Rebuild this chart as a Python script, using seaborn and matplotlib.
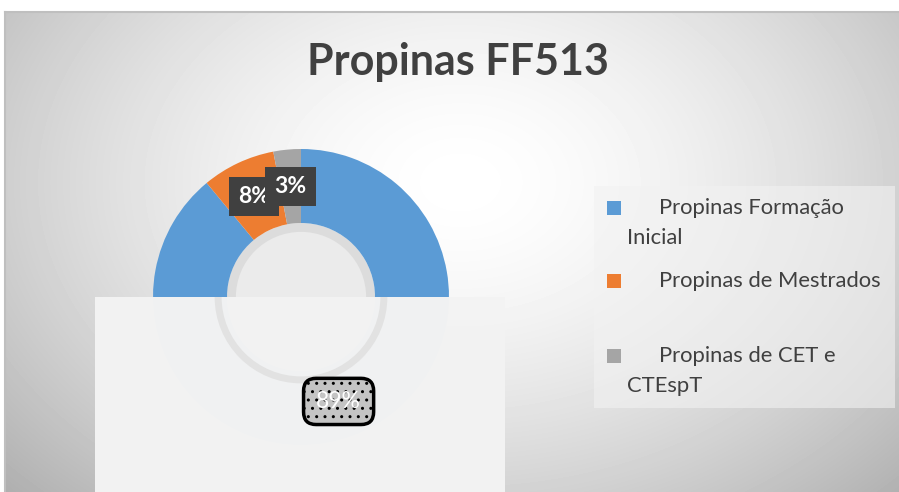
import textwrap
import numpy as np
import matplotlib
matplotlib.use("Agg")
import matplotlib.pyplot as plt
from matplotlib.patches import Rectangle, Circle
import seaborn as sns

# Data
categories = ["Propinas Formação Inicial", "Propinas de Mestrados", "Propinas de CET e CTEspT"]
shares = [89, 8, 3]
colors = ["#5b9bd5", "#ed7d31", "#a5a5a5"]
title = "Propinas FF513"

sns.set_theme(style="white")
plt.rcParams["font.family"] = ["Lato", "DejaVu Sans"]

W, H = 899, 492
fig = plt.figure(figsize=(W / 100, H / 100), dpi=100)
fig.patch.set_facecolor("white")


def fx(px):
    return px / W


def fy(py):
    return 1 - py / H


# background panel with soft radial gradient
bg = fig.add_axes([fx(5), 0, fx(894), 480 / H])
yy, xx = np.mgrid[0:480, 0:894]
d = np.sqrt(((xx - 455) / 500) ** 2 + ((yy - 170) / 360) ** 2)
g = 1 - 0.22 * np.clip(d, 0, 1.4) ** 1.6
bg.imshow(g, cmap="gray", vmin=0, vmax=1, aspect="auto", interpolation="bilinear")
bg.set_xticks([])
bg.set_yticks([])
for side in ["right", "bottom"]:
    bg.spines[side].set_visible(False)
for side in ["top", "left"]:
    bg.spines[side].set_color("#bfbfbf")
    bg.spines[side].set_linewidth(1.5)

# donut
R = 148
ax = fig.add_axes([fx(301 - 160), fy(297 + 160), fx(320), 320 / H])
ax.set_facecolor("none")
ax.add_patch(Circle((0, 0), 0.5, facecolor="#dcdcdc", edgecolor="none", zorder=0))
ax.add_patch(Circle((0, 0), 0.44, facecolor="#ebebeb", edgecolor="none", zorder=0))
wedges, texts, autotexts = ax.pie(
    shares, colors=colors, startangle=90, counterclock=False, radius=1,
    wedgeprops=dict(width=0.5, edgecolor="none"),
    autopct="%1.0f%%", pctdistance=0.75,
    textprops=dict(color="white", fontsize=16.5, fontweight="bold"),
)
for t in autotexts[1:]:
    t.set_bbox(dict(boxstyle="square,pad=0.4", facecolor="#404040", edgecolor="none"))
    t.set_zorder(4)
autotexts[0].set_fontweight("normal")
autotexts[0].set_bbox(dict(boxstyle="round,pad=0.55", facecolor="#c4c4c4",
                           edgecolor="black", hatch="..", linewidth=2.5))
autotexts[0].set_zorder(7)

# washed-out lower half
overlay = Rectangle((fx(95), 0), fx(410), 195 / H, transform=fig.transFigure,
                    facecolor="#f3f3f3", edgecolor="none", alpha=0.99,
                    zorder=5, clip_on=False)
ax.add_patch(overlay)
ring = Circle((0, 0), 0.56, facecolor="none", edgecolor="#e2e2e2",
              linewidth=5, zorder=6)
ax.add_patch(ring)
ring.set_clip_path(overlay)
ax.set_xlim(-160 / R, 160 / R)
ax.set_ylim(-160 / R, 160 / R)
ax.axis("off")

# title
fig.text(fx(458), fy(62), title, ha="center", va="center", fontsize=31,
         fontweight="bold", color="#404040")

# legend
fig.patches.append(Rectangle((fx(594), fy(408)), fx(301), 222 / H,
                             transform=fig.transFigure, facecolor="#f2f2f2",
                             edgecolor="none", alpha=0.6, zorder=1))
row_y = [208, 281, 356]
for label, col, y in zip(categories, colors, row_y):
    fig.patches.append(Rectangle((fx(607), fy(y + 7)), fx(14), 14 / H,
                                 transform=fig.transFigure, facecolor=col,
                                 edgecolor="none", zorder=2))
    lines = textwrap.wrap(label, 21)
    for k, line in enumerate(lines):
        x0 = 659 if k == 0 else 627
        fig.text(fx(x0), fy(y + 30 * k), line, ha="left", va="center",
                 fontsize=15.8, color="#404040", zorder=3)

fig.savefig("out.png", dpi=100)
